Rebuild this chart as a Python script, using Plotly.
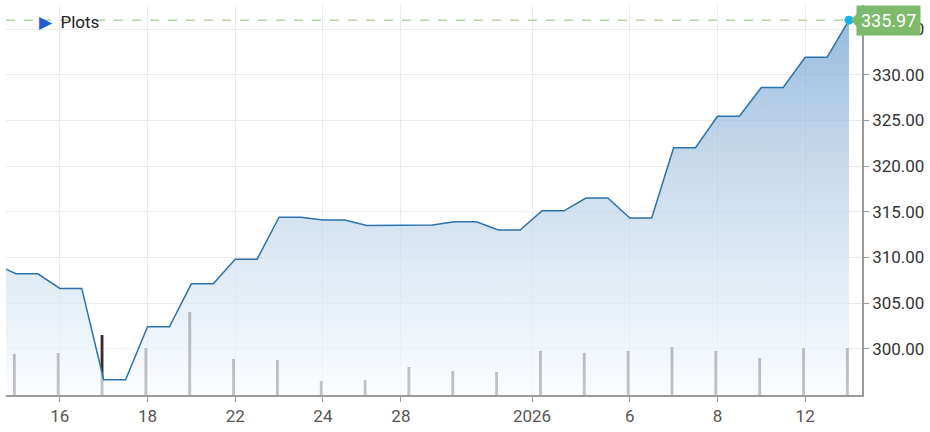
"""Price area chart with volume sticks (Dec 2025 - Jan 2026)."""

import plotly.graph_objects as go

# trading days; first one sits just off the left edge
dates = ["2025-12-12", "2025-12-15", "2025-12-16", "2025-12-17", "2025-12-18",
         "2025-12-19", "2025-12-22", "2025-12-23", "2025-12-24", "2025-12-26",
         "2025-12-29", "2025-12-30", "2025-12-31", "2026-01-02", "2026-01-05",
         "2026-01-06", "2026-01-07", "2026-01-08", "2026-01-09", "2026-01-12",
         "2026-01-13"]
close = [309.3, 308.2, 306.6, 296.6, 302.4, 307.1, 309.8, 314.4, 314.1, 313.5,
         313.55, 313.9, 313.0, 315.1, 316.5, 314.3, 322.0, 325.45, 328.6, 331.9,
         335.97]
volume = [4.0, 4.1, 4.2, 6.0, 4.7, 8.3, 3.6, 3.5, 1.4, 1.5, 2.8, 2.4, 2.3,
          4.4, 4.2, 4.4, 4.8, 4.4, 3.7, 4.7, 4.7]  # millions

tick_pos = [1, 3, 5, 7, 8.78, 11.77, 14, 16, 18]
tick_text = ["16", "18", "22", "24", "28", "2026", "6", "8", "12"]
price_ticks = [300, 305, 310, 315, 320, 325, 330, 335]

FONT = "Roboto"
LINE = "#2b72ad"
LAST = close[-1]

idx = [i - 1 for i in range(len(dates))]

# each session is held flat for half a slot before moving to the next one
line_x, line_y = [], []
for i, v in zip(idx, close):
    line_x.append(i)
    line_y.append(v)
    if i != idx[-1]:
        line_x.append(i + 0.5)
        line_y.append(v)

x_range = [-0.228, 19.297]
y_range = [294.93, 337.63]

fig = go.Figure()

# volume sticks (drawn under the translucent area)
fig.add_trace(go.Bar(
    x=idx, y=volume,
    width=0.065, offset=-0.07,
    marker=dict(color="#3b2b29", line=dict(width=0)),
    yaxis="y",
    hoverinfo="skip",
))

fig.add_trace(go.Scatter(
    x=line_x, y=line_y,
    mode="lines",
    line=dict(color=LINE, width=1.5),
    fill="tozeroy",
    fillgradient=dict(
        type="vertical",
        start=y_range[0], stop=LAST,
        colorscale=[
            [0.0, "rgba(249,252,255,0.72)"],
            [0.37, "rgba(207,224,239,0.72)"],
            [0.61, "rgba(180,205,229,0.72)"],
            [1.0, "rgba(112,162,209,0.72)"],
        ],
    ),
    yaxis="y2",
))

fig.add_trace(go.Scatter(
    x=[idx[-1]], y=[LAST],
    mode="markers",
    marker=dict(color="#1cb0f0", size=9),
    yaxis="y2",
))

# last price guide line
fig.add_shape(type="line", xref="x", yref="y2",
              x0=x_range[0], x1=idx[-1], y0=LAST, y1=LAST,
              line=dict(color="#b5d3a6", width=1.5, dash="dash"))

# pointer of the price tag
fig.add_shape(type="path", xref="x", yref="y2",
              xsizemode="pixel", ysizemode="pixel",
              xanchor=idx[-1], yanchor=LAST,
              path="M 2,0 L 9,-8 L 9,8 Z",
              fillcolor="#7dba6b", line=dict(width=0))

fig.add_annotation(
    x=idx[-1], y=LAST, xref="x", yref="y2",
    xanchor="left", yanchor="middle", xshift=7,
    text=f"{LAST:.2f}", showarrow=False,
    font=dict(family=FONT, size=18, color="white"),
    bgcolor="#7dba6b", borderpad=4,
)

fig.add_annotation(
    x=0.036, y=0.956, xref="paper", yref="paper",
    xanchor="left", yanchor="middle",
    text="<span style='color:#1f5fd0'>▶</span>  Plots",
    showarrow=False,
    font=dict(family=FONT, size=17, color="#222"),
)

fig.update_layout(
    width=930, height=432,
    template="plotly_white",
    showlegend=False,
    plot_bgcolor="white",
    margin=dict(l=6, r=68, t=5, b=37),
    font=dict(family=FONT, size=17),
    xaxis=dict(
        range=x_range,
        tickvals=tick_pos, ticktext=tick_text,
        showgrid=True, gridcolor="#ebebeb", gridwidth=1,
        showline=True, linecolor="#9a9a9a", linewidth=1.5,
        ticks="outside", ticklen=5, tickcolor="#9a9a9a",
        tickfont=dict(family=FONT, size=17, color="#555"),
        zeroline=False,
    ),
    yaxis=dict(
        range=[0, 39],
        visible=False, showgrid=False, zeroline=False,
    ),
    yaxis2=dict(
        range=y_range, overlaying="y", side="right",
        tickvals=price_ticks, tickformat=".2f",
        showgrid=True, gridcolor="#ebebeb", gridwidth=1,
        showline=True, linecolor="#9a9a9a", linewidth=1.5,
        ticks="outside", ticklen=5, tickcolor="#9a9a9a",
        tickfont=dict(family=FONT, size=17, color="#333"),
        zeroline=False,
    ),
)

# the page's default body margin would push the figure off by 8px
fig.write_html("out.html", config=dict(displayModeBar=False),
               post_script="document.body.style.margin='0';")
